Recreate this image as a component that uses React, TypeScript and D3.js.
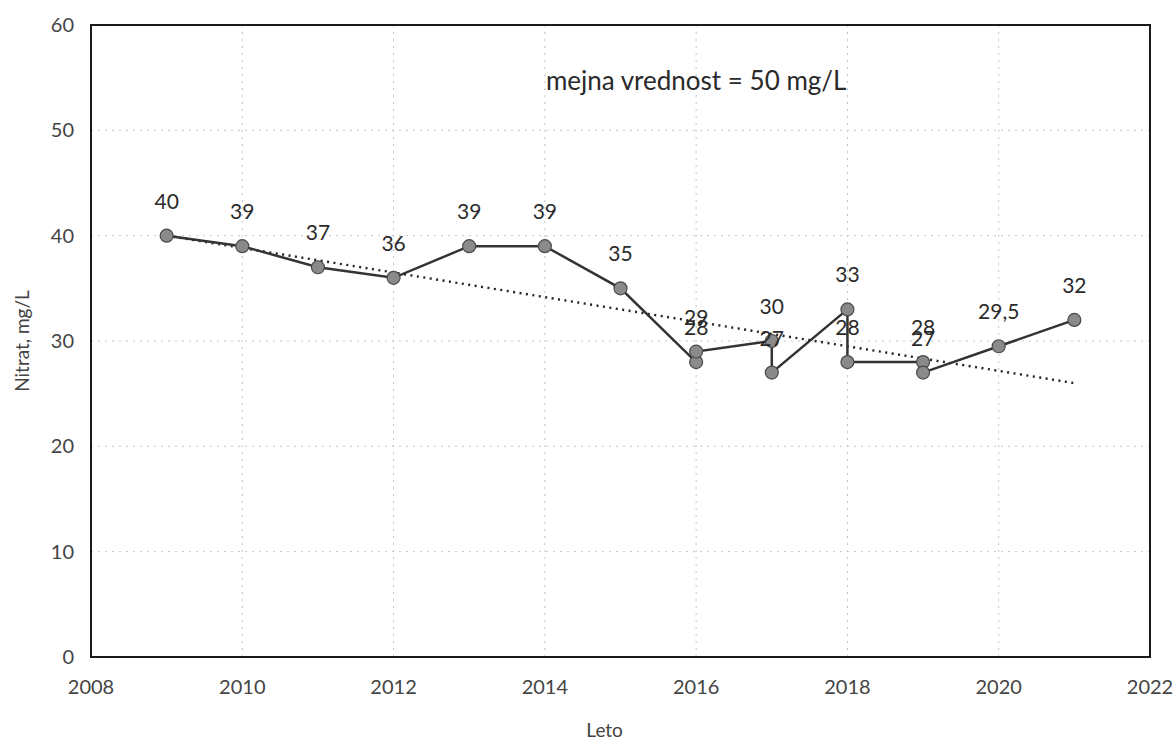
import * as d3 from 'd3'

// series in drawing order (two samples in some years)
const years = [2009, 2010, 2011, 2012, 2013, 2014, 2015, 2016, 2016, 2017, 2017, 2018, 2018, 2019, 2019, 2020, 2021]
const nitrate = [40, 39, 37, 36, 39, 39, 35, 28, 29, 30, 27, 33, 28, 28, 27, 29.5, 32]
const trendYears = [2009, 2021]
const trendValues = [40, 26]
const xTicks = [2008, 2010, 2012, 2014, 2016, 2018, 2020, 2022]
const yTicks = [0, 10, 20, 30, 40, 50, 60]

const W = 1176
const H = 742
const M = { left: 91, right: 26, top: 25, bottom: 85 }
const FONT = 'Lato, "Open Sans", sans-serif'

const fmt = (v: number) => String(v).replace('.', ',')

export default function App() {
  const x = d3.scaleLinear().domain([2008, 2022]).range([M.left, W - M.right])
  const y = d3.scaleLinear().domain([0, 60]).range([H - M.bottom, M.top])

  const pts = years.map((yr, i) => ({ yr, v: nitrate[i] }))
  const line = d3.line<{ yr: number; v: number }>().x(d => x(d.yr)).y(d => y(d.v))
  const trend = d3.line<number>().x((_, i) => x(trendYears[i])).y(d => y(d))

  const [x0, x1] = x.range()
  const [y0, y1] = y.range()

  return (
    <svg width={W} height={H} style={{ position: 'absolute', left: 0, top: 0, background: '#fff' }}>
      {/* gridlines */}
      {yTicks.slice(1, -1).map(t => (
        <line key={'gy' + t} x1={x0} x2={x1} y1={y(t)} y2={y(t)}
          stroke="#c4c4c4" strokeWidth={1} strokeDasharray="2,5"/>
      ))}
      {xTicks.slice(1, -1).map(t => (
        <line key={'gx' + t} x1={x(t)} x2={x(t)} y1={y1} y2={y0}
          stroke="#c4c4c4" strokeWidth={1} strokeDasharray="2,5"/>
      ))}

      {/* plot frame */}
      <rect x={x0} y={y1} width={x1 - x0} height={y0 - y1} fill="none" stroke="#1a1a1a" strokeWidth={2}/>

      {/* tick labels */}
      {yTicks.map(t => (
        <text key={'ty' + t} x={x0 - 17} y={y(t)} dy="0.35em" textAnchor="end"
          fontSize={20} fontFamily={FONT} fill="#444">{t}</text>
      ))}
      {xTicks.map(t => (
        <text key={'tx' + t} x={x(t)} y={y0 + 37} textAnchor="middle"
          fontSize={20} fontFamily={FONT} fill="#444">{t}</text>
      ))}

      {/* axis titles */}
      <text transform={`translate(29,${(y0 + y1) / 2}) rotate(-90)`} textAnchor="middle"
        fontSize={19} fontFamily={FONT} fill="#444">Nitrat, mg/L</text>
      <text x={x0 + (x1 - x0) * 0.485} y={737} textAnchor="middle"
        fontSize={19} fontFamily={FONT} fill="#444">Leto</text>

      {/* annotation */}
      <text x={x(2016)} y={y(53.8)} textAnchor="middle"
        fontSize={26} fontFamily={FONT} fill="#2a2a2a">mejna vrednost = 50 mg/L</text>

      {/* trend */}
      <path d={trend(trendValues) || ''} fill="none" stroke="#222" strokeWidth={2.4} strokeDasharray="2,4.5"/>

      {/* series */}
      <path d={line(pts) || ''} fill="none" stroke="#333" strokeWidth={2.5}/>
      {pts.map((p, i) => (
        <circle key={'c' + i} cx={x(p.yr)} cy={y(p.v)} r={6.5} fill="#8a8a8a" stroke="#4a4a4a" strokeWidth={1.2}/>
      ))}
      {pts.map((p, i) => (
        <text key={'l' + i} x={x(p.yr)} y={y(p.v) - 27} textAnchor="middle"
          fontSize={21} fontFamily={FONT} fill="#2a2a2a">{fmt(p.v)}</text>
      ))}
    </svg>
  )
}
